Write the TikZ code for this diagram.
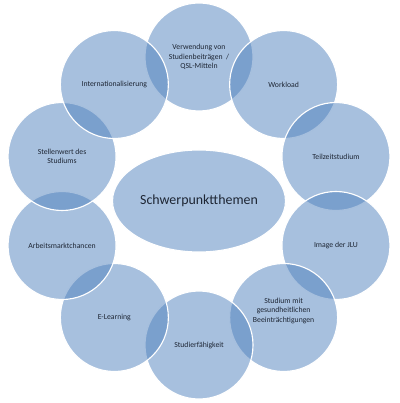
\documentclass[tikz,border=0pt]{standalone}
\usepackage{fontspec}
\setmainfont{Carlito}
\usetikzlibrary{shapes.geometric}

\definecolor{themeblue}{RGB}{79,129,189}
\definecolor{labelink}{RGB}{30,38,52}

\begin{document}
\begin{tikzpicture}

        % Styles
        \tikzset{
          topic/.style={circle,draw=white,line width=0.8pt,fill=themeblue,
                        fill opacity=0.5,text opacity=1,text=labelink,
                        minimum size=2.7cm,inner sep=0pt,align=center,
                        font=\fontsize{5.5}{6.6}\selectfont},
          hub/.style={ellipse,draw=white,line width=0.8pt,fill=themeblue,
                      fill opacity=0.5,text opacity=1,text=labelink,
                      minimum width=4.325cm,minimum height=2.55cm,
                      inner sep=0pt,font=\fontsize{9.9}{11.9}\selectfont}
        }

        % ring radius and frame
        \def\ringR{3.6cm}
        \useasboundingbox (-4.975,-5.05) rectangle (5.025,5.025);

        %-------------------------------
        % Centre
        %-------------------------------
        \node[hub] (hub) at (0,0) {Schwerpunktthemen};

        %-------------------------------
        % Topics, clockwise from the top
        %-------------------------------
        \node[topic] (verw) at (90:\ringR)
        {Verwendung von\\Studienbeiträgen\ \ /\\QSL-Mitteln};
        \node[topic] (work) at (54:\ringR)  {Workload};
        \node[topic] (teil) at (18:\ringR)  {Teilzeitstudium};
        \node[topic] (img)  at (-18:\ringR) {Image der JLU};
        % text sits a little above the centre here
        \node[topic] (gesd) at (-54:\ringR)
        {Studium mit\\gesundheitlichen\\Beeinträchtigungen\\[1.4ex]\mbox{}};
        \node[topic] (stfg) at (-90:\ringR)  {Studierfähigkeit};
        \node[topic] (elrn) at (-126:\ringR) {E-Learning};
        \node[topic] (arbm) at (-162:\ringR) {Arbeitsmarktchancen};
        \node[topic] (stel) at (162:\ringR)  {Stellenwert des\\Studiums};
        \node[topic] (intl) at (126:\ringR)  {Internationalisierung};

    \end{tikzpicture}
\end{document}
